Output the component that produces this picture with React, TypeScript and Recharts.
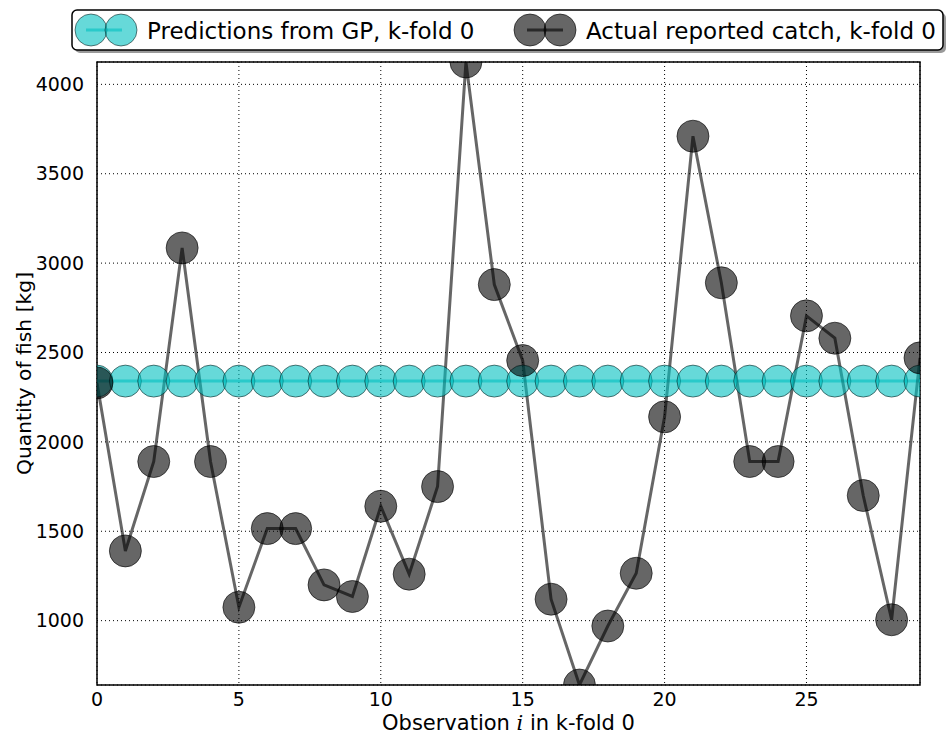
import React from 'react';
import { LineChart, Line, XAxis, YAxis, CartesianGrid, ReferenceArea } from 'recharts';

const observations = [0, 1, 2, 3, 4, 5, 6, 7, 8, 9, 10, 11, 12, 13, 14, 15, 16, 17, 18, 19, 20, 21, 22, 23, 24, 25, 26, 27, 28, 29];
const gpPredictions = [2340, 2340, 2340, 2340, 2340, 2340, 2340, 2340, 2340, 2340, 2340, 2340, 2340, 2340, 2340, 2340, 2340, 2340, 2340, 2340, 2340, 2340, 2340, 2340, 2340, 2340, 2340, 2340, 2340, 2340];
const actualCatch = [2330, 1390, 1890, 3085, 1890, 1075, 1515, 1515, 1200, 1135, 1640, 1260, 1750, 4125, 2880, 2455, 1120, 640, 970, 1265, 2140, 3710, 2890, 1890, 1890, 2705, 2580, 1700, 1005, 2470];
const xTicks = [0, 5, 10, 15, 20, 25];
const yTicks = [1000, 1500, 2000, 2500, 3000, 3500, 4000];
const yDomain = [640, 4125];
const xDomain = [0, 29];
const gpLabel = 'Predictions from GP, k-fold 0';
const actualLabel = 'Actual reported catch, k-fold 0';
const yLabel = 'Quantity of fish [kg]';

const data = observations.map((o, i) => ({ obs: o, gp: gpPredictions[i], actual: actualCatch[i] }));

const FONT = 'DejaVu Sans';

const XLabel = (props: any) => {
  const vb = props.viewBox || {};
  const cx = vb.x + vb.width / 2;
  return (
    <text x={cx} y={730} textAnchor="middle" fontFamily={FONT} fontSize={21} fill="#000">
      <tspan>Observation </tspan>
      <tspan fontStyle="italic" fontFamily="DejaVu Serif">i</tspan>
      <tspan> in k-fold 0</tspan>
    </text>
  );
};

const YLabel = (props: any) => {
  const vb = props.viewBox || {};
  const cy = vb.y + vb.height / 2;
  const cx = 24;
  return (
    <text
      x={cx}
      y={cy}
      transform={`rotate(-90, ${cx}, ${cy})`}
      textAnchor="middle"
      dominantBaseline="central"
      fontFamily={FONT}
      fontSize={20.3}
      fill="#000"
    >
      {yLabel}
    </text>
  );
};

export default function App() {
  return (
    <div style={{ position: 'absolute', left: 0, top: 0, width: 948, height: 738, background: '#fff' }}>
      <LineChart width={948} height={738} data={data} margin={{ top: 62, right: 28, bottom: 0, left: 0 }}>
        <CartesianGrid stroke="#000" strokeDasharray="1 3" strokeWidth={1} />
        <XAxis
          dataKey="obs"
          type="number"
          domain={xDomain}
          ticks={xTicks}
          allowDataOverflow
          height={53}
          tickLine={false}
          axisLine={false}
          tick={{ fontFamily: FONT, fontSize: 19, fill: '#000' }}
          tickMargin={2}
          label={<XLabel />}
        />
        <YAxis
          type="number"
          domain={yDomain}
          ticks={yTicks}
          allowDataOverflow
          width={97}
          tickLine={false}
          axisLine={false}
          tick={{ fontFamily: FONT, fontSize: 19, fill: '#000' }}
          tickMargin={7}
          label={<YLabel />}
        />
        <Line
          dataKey="gp"
          isAnimationActive={false}
          stroke="#00bfbf"
          strokeOpacity={0.6}
          strokeWidth={3}
          dot={{ r: 16, fill: '#00bfbf', fillOpacity: 0.6, stroke: '#000', strokeOpacity: 0.5, strokeWidth: 1 }}
          activeDot={false}
        />
        <Line
          dataKey="actual"
          isAnimationActive={false}
          stroke="#000"
          strokeOpacity={0.6}
          strokeWidth={3}
          dot={{ r: 16, fill: '#000', fillOpacity: 0.6, stroke: '#000', strokeOpacity: 0.6, strokeWidth: 1 }}
          activeDot={false}
        />
        <ReferenceArea x1={0} x2={29} y1={640} y2={4125} fill="none" stroke="#000" strokeWidth={1.5} ifOverflow="extendDomain" />
      </LineChart>
      <svg width={948} height={60} style={{ position: 'absolute', left: 0, top: 0 }}>
        <rect x={75} y={13} width={871} height={40} rx={5} fill="#9a9a9a" />
        <rect x={72} y={10} width={871} height={40} rx={5} fill="#fff" stroke="#000" strokeWidth={1.5} />
        <line x1={86} y1={30} x2={122} y2={30} stroke="#00bfbf" strokeOpacity={0.6} strokeWidth={3} />
        <circle cx={91} cy={30} r={16} fill="#00bfbf" fillOpacity={0.6} stroke="#000" strokeOpacity={0.5} />
        <circle cx={121} cy={30} r={16} fill="#00bfbf" fillOpacity={0.6} stroke="#000" strokeOpacity={0.5} />
        <text x={147} y={38.5} fontFamily={FONT} fontSize={23} fill="#000">{gpLabel}</text>
        <line x1={527} y1={30} x2={563} y2={30} stroke="#000" strokeOpacity={0.6} strokeWidth={3} />
        <circle cx={530} cy={30} r={16} fill="#000" fillOpacity={0.6} stroke="#000" strokeOpacity={0.6} />
        <circle cx={560} cy={30} r={16} fill="#000" fillOpacity={0.6} stroke="#000" strokeOpacity={0.6} />
        <text x={586} y={38.5} fontFamily={FONT} fontSize={23} fill="#000">{actualLabel}</text>
      </svg>
    </div>
  );
}
